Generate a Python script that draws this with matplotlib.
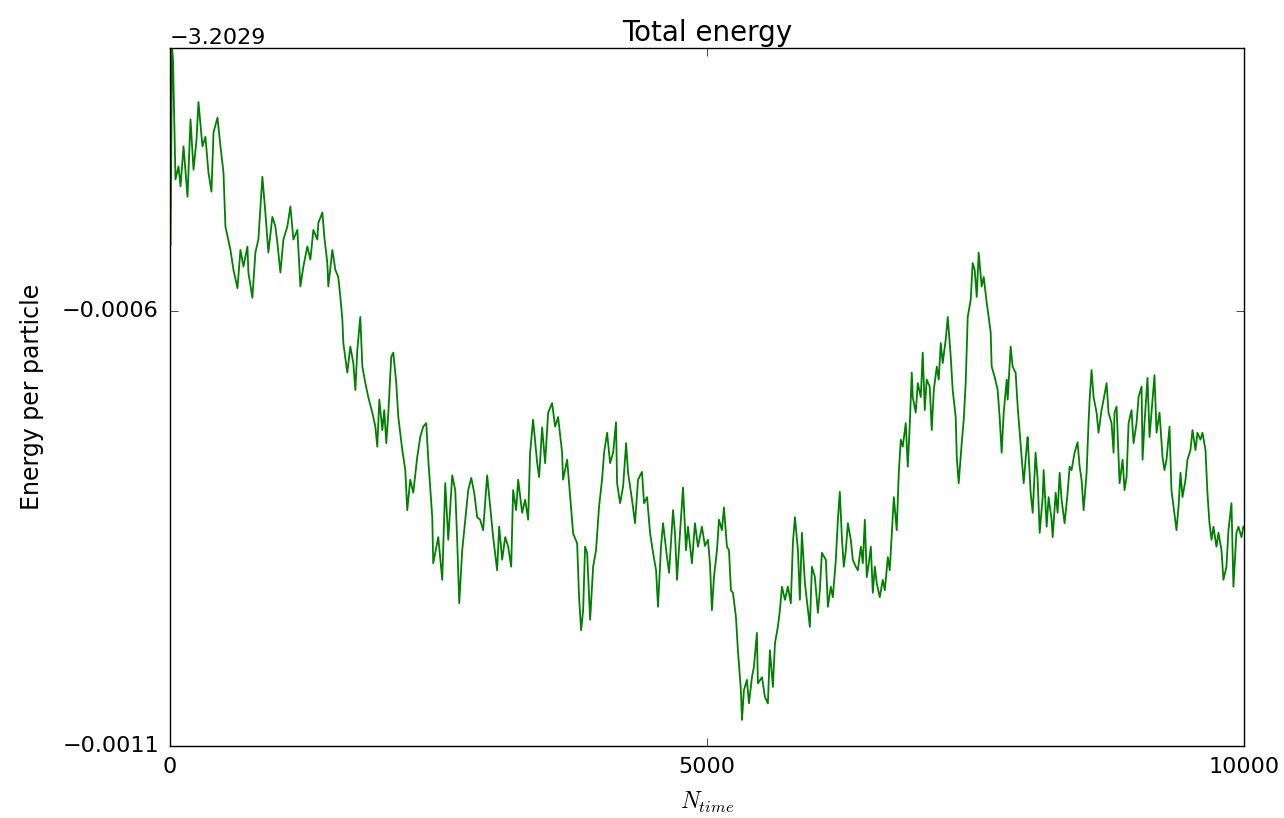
import matplotlib
matplotlib.use("Agg")
import matplotlib.pyplot as plt
from matplotlib.ticker import ScalarFormatter

# energy per particle = E0 + dE * 1e-4
E0 = -3.2029

steps = [
    5, 19, 28, 51, 79, 98, 126, 163, 191, 219, 247, 265, 302, 330, 358, 386,
    405, 442, 470, 498, 516, 563, 591, 628, 656, 684, 721, 730, 767, 795, 823,
    860, 888, 916, 953, 981, 1000, 1028, 1056, 1093, 1121, 1149, 1186, 1214,
    1242, 1279, 1307, 1335, 1372, 1381, 1419, 1437, 1465, 1474, 1512, 1540,
    1567, 1586, 1605, 1614, 1651, 1679, 1707, 1726, 1744, 1772, 1791, 1819,
    1846, 1884, 1912, 1930, 1949, 1977, 1995, 2014, 2033, 2060, 2079, 2107,
    2126, 2163, 2191, 2209, 2237, 2265, 2302, 2330, 2358, 2386, 2405, 2442,
    2451, 2470, 2498, 2535, 2563, 2591, 2628, 2656, 2674, 2693, 2721, 2749,
    2777, 2805, 2833, 2860, 2888, 2916, 2953, 2981, 3009, 3046, 3065, 3093,
    3121, 3149, 3177, 3195, 3223, 3242, 3279, 3307, 3335, 3353, 3381, 3419,
    3437, 3465, 3493, 3521, 3558, 3586, 3614, 3651, 3660, 3698, 3726, 3754,
    3791, 3809, 3828, 3847, 3865, 3884, 3912, 3940, 3967, 3995, 4023, 4042,
    4070, 4098, 4126, 4153, 4163, 4191, 4219, 4247, 4265, 4302, 4330, 4358,
    4395, 4414, 4442, 4470, 4498, 4526, 4544, 4572, 4591, 4628, 4647, 4684,
    4702, 4721, 4749, 4777, 4805, 4823, 4860, 4888, 4916, 4953, 4981, 5009,
    5028, 5046, 5065, 5093, 5112, 5139, 5158, 5186, 5205, 5223, 5242, 5270,
    5288, 5316, 5326, 5344, 5372, 5391, 5419, 5437, 5465, 5474, 5512, 5540,
    5567, 5586, 5614, 5633, 5660, 5679, 5698, 5726, 5753, 5781, 5800, 5819,
    5847, 5865, 5884, 5912, 5940, 5958, 5977, 6005, 6033, 6051, 6070, 6107,
    6126, 6153, 6172, 6200, 6219, 6237, 6256, 6274, 6293, 6312, 6339, 6358,
    6386, 6405, 6433, 6451, 6470, 6488, 6507, 6526, 6544, 6563, 6581, 6609,
    6637, 6656, 6684, 6702, 6721, 6740, 6767, 6786, 6805, 6823, 6851, 6870,
    6889, 6907, 6916, 6944, 6963, 6991, 7009, 7028, 7046, 7074, 7093, 7112,
    7140, 7158, 7177, 7195, 7223, 7242, 7270, 7288, 7316, 7326, 7344, 7372,
    7391, 7409, 7428, 7456, 7474, 7493, 7512, 7530, 7558, 7577, 7605, 7623,
    7642, 7651, 7679, 7707, 7725, 7744, 7763, 7791, 7800, 7828, 7846, 7874,
    7893, 7912, 7930, 7949, 7977, 7986, 8014, 8033, 8060, 8079, 8098, 8126,
    8135, 8163, 8181, 8209, 8219, 8247, 8265, 8284, 8302, 8330, 8358, 8377,
    8395, 8423, 8451, 8470, 8488, 8507, 8535, 8553, 8563, 8581, 8600, 8628,
    8646, 8674, 8693, 8721, 8739, 8767, 8786, 8795, 8814, 8842, 8870, 8888,
    8907, 8926, 8953, 8972, 9000, 9019, 9047, 9056, 9074, 9102, 9121, 9149,
    9167, 9186, 9214, 9242, 9260, 9279, 9307, 9325, 9344, 9372, 9391, 9409,
    9428, 9456, 9474, 9502, 9521, 9549, 9567, 9595, 9614, 9642, 9660, 9679,
    9698, 9716, 9744, 9763, 9791, 9809, 9837, 9856, 9884, 9902, 9930, 9949,
    9977, 9995,
]

dE = [
    -5.24, -2.98, -3.11, -4.49, -4.34, -4.57, -4.11, -4.69, -3.80, -4.38,
    -4.03, -3.60, -4.11, -4.00, -4.41, -4.63, -3.95, -3.78, -4.11, -4.41,
    -5.03, -5.30, -5.53, -5.74, -5.30, -5.49, -5.26, -5.56, -5.85, -5.33,
    -5.18, -4.46, -4.87, -5.33, -4.92, -5.03, -5.22, -5.56, -5.18, -5.03,
    -4.80, -5.18, -5.07, -5.72, -5.49, -5.26, -5.41, -5.07, -5.18, -4.99,
    -4.87, -5.15, -5.45, -5.72, -5.30, -5.53, -5.61, -5.84, -6.10, -6.37,
    -6.71, -6.41, -6.60, -6.91, -6.45, -6.07, -6.64, -6.83, -6.99, -7.17,
    -7.33, -7.56, -7.02, -7.37, -7.14, -7.52, -7.17, -6.53, -6.48, -6.83,
    -7.22, -7.60, -7.83, -8.29, -7.94, -8.09, -7.68, -7.45, -7.33, -7.29,
    -7.71, -8.37, -8.90, -8.78, -8.60, -9.09, -7.98, -8.63, -7.89, -8.06,
    -8.63, -9.36, -8.75, -8.40, -8.06, -7.92, -8.09, -8.37, -8.40, -8.52,
    -7.89, -8.25, -8.60, -8.98, -8.48, -8.86, -8.60, -8.71, -8.94, -8.06,
    -8.29, -7.94, -8.32, -8.17, -8.40, -7.63, -7.25, -7.75, -7.91, -7.34,
    -7.75, -7.17, -7.06, -7.33, -7.22, -7.63, -7.94, -7.71, -8.14, -8.56,
    -8.67, -9.29, -9.67, -9.44, -8.71, -8.78, -9.55, -8.94, -8.75, -8.25,
    -7.94, -7.63, -7.40, -7.75, -7.63, -7.28, -7.98, -8.21, -8.02, -7.52,
    -7.86, -8.17, -8.44, -7.94, -7.85, -8.21, -8.14, -8.55, -8.78, -8.98,
    -9.40, -8.71, -8.44, -8.83, -9.01, -8.29, -8.55, -9.09, -8.55, -8.03,
    -8.75, -8.48, -8.90, -8.44, -8.71, -8.48, -8.70, -8.63, -8.90, -9.44,
    -9.06, -8.75, -8.40, -8.52, -8.26, -8.71, -8.75, -9.21, -9.24, -9.52,
    -9.90, -10.36, -10.70, -10.36, -10.24, -10.51, -10.21, -10.09, -9.70, -10.28,
    -10.21, -10.44, -10.51, -9.90, -10.32, -9.82, -9.63, -9.44, -9.17, -9.32,
    -9.17, -9.36, -8.67, -8.37, -8.75, -9.32, -8.55, -9.13, -9.44, -9.63,
    -8.94, -9.06, -9.47, -9.21, -8.78, -8.86, -9.40, -9.17, -9.29, -8.86,
    -8.40, -8.08, -8.60, -8.94, -8.75, -8.44, -8.63, -8.86, -8.94, -8.98,
    -8.71, -8.90, -8.40, -9.06, -8.90, -8.71, -9.24, -8.94, -9.13, -9.29,
    -9.09, -9.21, -8.83, -8.98, -8.55, -8.14, -8.52, -7.86, -7.48, -7.56,
    -7.29, -7.79, -7.29, -6.71, -6.99, -7.17, -6.83, -6.99, -6.48, -7.14,
    -6.79, -6.87, -7.37, -6.91, -6.64, -6.79, -6.37, -6.60, -6.33, -6.07,
    -6.53, -6.91, -7.22, -7.68, -7.98, -7.52, -7.25, -6.83, -6.07, -5.87,
    -5.45, -5.53, -5.84, -5.33, -5.72, -5.61, -5.91, -6.07, -6.25, -6.64,
    -6.76, -6.91, -7.22, -7.63, -7.17, -6.79, -7.02, -6.41, -6.64, -6.71,
    -7.10, -7.40, -7.68, -7.98, -7.56, -7.45, -8.09, -8.32, -7.63, -7.94,
    -8.55, -8.14, -7.83, -8.48, -8.14, -8.40, -8.60, -8.09, -8.32, -7.86,
    -8.17, -8.44, -8.09, -7.79, -7.83, -7.63, -7.51, -7.79, -7.94, -8.29,
    -7.86, -7.29, -7.02, -6.68, -6.99, -7.17, -7.40, -7.14, -7.02, -6.83,
    -7.17, -7.29, -7.63, -7.17, -7.10, -7.98, -7.71, -8.06, -7.91, -7.29,
    -7.14, -7.52, -7.29, -6.99, -6.87, -7.71, -7.29, -6.77, -7.45, -7.02,
    -6.74, -7.40, -7.17, -7.68, -7.83, -7.71, -7.33, -8.06, -8.25, -8.52,
    -8.25, -7.86, -8.14, -7.94, -7.71, -7.60, -7.37, -7.60, -7.40, -7.48,
    -7.40, -7.60, -8.09, -8.44, -8.63, -8.48, -8.71, -8.55, -8.75, -9.09,
    -8.94, -8.52, -8.21, -9.17, -8.55, -8.48, -8.60, -8.48,
]

energy = [E0 + d * 1e-4 for d in dE]

plt.style.use("classic")
plt.rcParams["font.size"] = 16
plt.rcParams["savefig.facecolor"] = "white"

fig, ax = plt.subplots(figsize=(12.84, 8.18), dpi=100)
fig.subplots_adjust(left=0.1324, right=0.9688, top=0.9413, bottom=0.088)

ax.plot(steps, energy, color="g", lw=1.3)

ax.set_xlim(0, 10000)
ax.set_ylim(E0 - 0.0011, E0 - 0.000298)
ax.set_xticks([0, 5000, 10000])
ax.set_yticks([E0 - 0.0011, E0 - 0.0006])
ax.yaxis.set_major_formatter(ScalarFormatter(useOffset=E0))
ax.tick_params(length=6, pad=8)

ax.set_title("Total energy", fontsize=20)
ax.set_xlabel(r"$N_{time}$", fontsize=17, labelpad=9)
ax.set_ylabel("Energy per particle", fontsize=17, labelpad=13)

fig.savefig("out.png", dpi=100, facecolor="white")
